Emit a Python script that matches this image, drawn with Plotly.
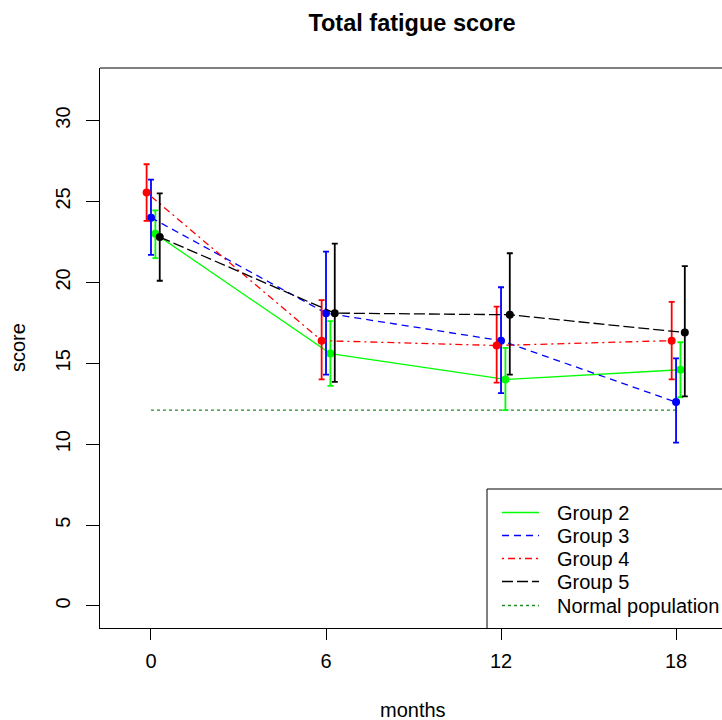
import plotly.graph_objects as go

# ---------------- data ----------------
months = [0, 6, 12, 18]
x_ticks = [0, 6, 12, 18]
y_ticks = [0, 5, 10, 15, 20, 25, 30]

group_names = ["Group 2", "Group 3", "Group 4", "Group 5"]

g2_mean = [23.0, 15.6, 14.0, 14.6]
g2_lo = [21.5, 13.6, 12.1, 12.9]
g2_hi = [24.45, 17.6, 15.95, 16.3]

g3_mean = [24.0, 18.1, 16.4, 12.6]
g3_lo = [21.7, 14.3, 13.15, 10.1]
g3_hi = [26.35, 21.9, 19.7, 15.3]

g4_mean = [25.55, 16.4, 16.1, 16.4]
g4_lo = [23.8, 14.0, 13.8, 14.0]
g4_hi = [27.3, 18.9, 18.5, 18.8]

g5_mean = [22.8, 18.1, 18.0, 16.9]
g5_lo = [20.1, 13.85, 14.3, 12.95]
g5_hi = [25.5, 22.4, 21.8, 21.0]

normal_months = [0, 18]
normal_score = 12.1

# ---------------- styles ----------------
FONT = "Liberation Sans, Arial, sans-serif"
colors = ["#00FF00", "#0000FF", "#FF0000", "#000000"]
dashes = ["solid", "7px,5px", "2px,4px,7px,4px", "11px,4px"]
dodge = [0.15, 0.0, -0.15, 0.3]
normal_color = "#228B22"
normal_dash = "3px,3px"

W, H = 722, 720
PL, PR, PT, PB = 100, 722, 68, 628


def px(x):
    return (x - PL) / (PR - PL)


def py(y):
    return (PB - y) / (PB - PT)


fig = go.Figure()

# normal population line
fig.add_trace(go.Scatter(
    x=normal_months, y=[normal_score] * len(normal_months), mode="lines",
    line=dict(color=normal_color, width=1.3, dash=normal_dash),
    showlegend=False, hoverinfo="skip"))

series = [(g2_mean, g2_lo, g2_hi), (g3_mean, g3_lo, g3_hi),
          (g4_mean, g4_lo, g4_hi), (g5_mean, g5_lo, g5_hi)]

for (mean, lo, hi), name, col, dsh, off in zip(series, group_names, colors, dashes, dodge):
    xs = [m + off for m in months]
    fig.add_trace(go.Scatter(
        x=xs, y=mean, mode="lines", name=name,
        line=dict(color=col, width=1.3, dash=dsh), showlegend=False))
    fig.add_trace(go.Scatter(
        x=xs, y=mean, mode="markers", name=name,
        marker=dict(color=col, size=8),
        error_y=dict(type="data", symmetric=False,
                     array=[h - m for h, m in zip(hi, mean)],
                     arrayminus=[m - l for m, l in zip(mean, lo)],
                     color=col, thickness=1.8, width=3),
        showlegend=False))

shapes = []
annotations = []

# top border of plot box
shapes.append(dict(type="line", xref="paper", yref="paper", x0=0, x1=1.05, y0=1, y1=1,
                   line=dict(color="black", width=1)))

# legend box (top and left edges; bottom coincides with axis, right off-canvas)
shapes.append(dict(type="line", xref="paper", yref="paper",
                   x0=px(487), x1=1.05, y0=py(489), y1=py(489), line=dict(color="black", width=1)))
shapes.append(dict(type="line", xref="paper", yref="paper",
                   x0=px(487), x1=px(487), y0=py(489), y1=0, line=dict(color="black", width=1)))

leg_names = group_names + ["Normal population"]
leg_colors = colors + [normal_color]
leg_dashes = dashes + [normal_dash]
leg_rows = [512.5, 535.5, 558.5, 581.5, 605.5]
for nm, col, dsh, ry in zip(leg_names, leg_colors, leg_dashes, leg_rows):
    shapes.append(dict(type="line", xref="paper", yref="paper",
                       x0=px(502), x1=px(539), y0=py(ry), y1=py(ry),
                       line=dict(color=col, width=1.3, dash=dsh)))
    annotations.append(dict(text=nm, xref="paper", yref="paper", x=px(555), y=py(ry),
                            xanchor="left", yanchor="middle", showarrow=False,
                            font=dict(family=FONT, size=20, color="black")))

# axis titles
annotations.append(dict(text="months", xref="paper", yref="paper", x=px(413), y=py(710),
                        xanchor="center", yanchor="middle", showarrow=False,
                        font=dict(family=FONT, size=20, color="black")))
annotations.append(dict(text="score", xref="paper", yref="paper", x=px(18), y=py(348),
                        xanchor="center", yanchor="middle", showarrow=False, textangle=-90,
                        font=dict(family=FONT, size=20, color="black")))

fig.update_layout(
    width=W, height=H,
    margin=dict(l=PL, r=W - PR, t=PT, b=H - PB, pad=0),
    paper_bgcolor="white", plot_bgcolor="white",
    font=dict(family=FONT, size=20, color="black"),
    title=dict(text="<b>Total fatigue score</b>", xref="container", yref="container",
               x=412 / W, y=1 - 23 / H, xanchor="center", yanchor="middle",
               font=dict(family=FONT, size=23.5, color="black")),
    xaxis=dict(range=[-1.748, 19.575], tickvals=x_ticks, ticktext=[str(v) for v in x_ticks],
               showgrid=False, zeroline=False, showline=True, linecolor="black", linewidth=1,
               ticks="outside", ticklen=11, tickwidth=1, tickcolor="black",
               ticklabelstandoff=4,
               tickfont=dict(family=FONT, size=20, color="black")),
    yaxis=dict(range=[-1.36, 33.25], tickvals=y_ticks, ticktext=[str(v) for v in y_ticks],
               showgrid=False, zeroline=False, showline=True, linecolor="black", linewidth=1,
               ticks="outside", ticklen=13, tickwidth=1, tickcolor="black", tickangle=-90,
               ticklabelstandoff=8,
               tickfont=dict(family=FONT, size=20, color="black")),
    shapes=shapes, annotations=annotations, showlegend=False,
)

fig.write_html("out.html")
